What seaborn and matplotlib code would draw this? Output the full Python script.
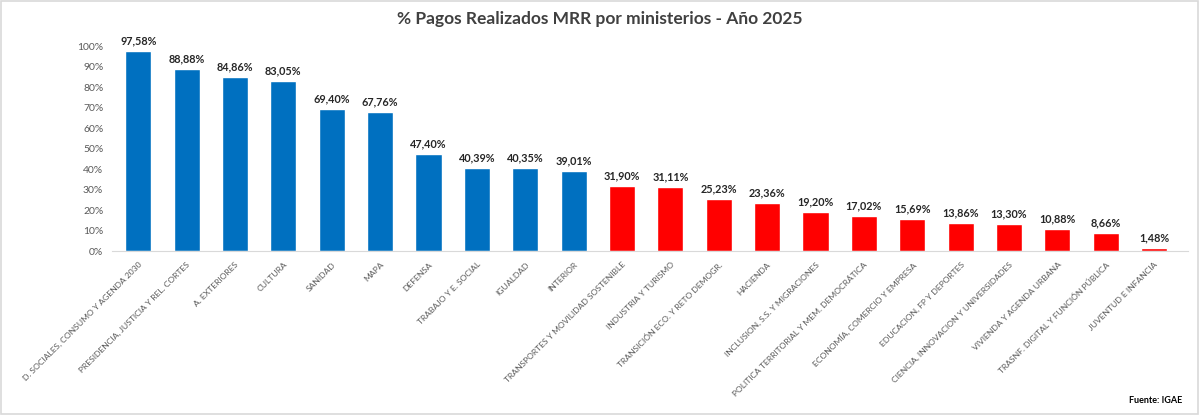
import matplotlib
matplotlib.use("Agg")
import matplotlib.pyplot as plt
import seaborn as sns
import pandas as pd
from matplotlib.patches import Rectangle

ministerios = [
    "D. SOCIALES, CONSUMO Y AGENDA 2030",
    "PRESIDENCIA, JUSTICIA Y REL. CORTES",
    "A. EXTERIORES",
    "CULTURA",
    "SANIDAD",
    "MAPA",
    "DEFENSA",
    "TRABAJO Y E. SOCIAL",
    "IGUALDAD",
    "INTERIOR",
    "TRANSPORTES Y MOVILIDAD SOSTENIBLE",
    "INDUSTRIA Y TURISMO",
    "TRANSICIÓN ECO. Y RETO DEMOGR.",
    "HACIENDA",
    "INCLUSION, S.S. Y MIGRACIONES",
    "POLITICA TERRITORIAL Y MEM. DEMOCRÁTICA",
    "ECONOMÍA, COMERCIO Y EMPRESA",
    "EDUCACION, FP Y DEPORTES",
    "CIENCIA, INNOVACION Y UNIVERSIDADES",
    "VIVIENDA Y AGENDA URBANA",
    "TRASNF. DIGITAL Y FUNCIÓN PÚBLICA",
    "JUVENTUD E INFANCIA",
]
pagos_pct = [97.58, 88.88, 84.86, 83.05, 69.40, 67.76, 47.40, 40.39, 40.35, 39.01,
             31.90, 31.11, 25.23, 23.36, 19.20, 17.02, 15.69, 13.86, 13.30, 10.88,
             8.66, 1.48]
grupo = ["alto"] * 10 + ["bajo"] * 12

df = pd.DataFrame({"ministerio": ministerios, "pct": [v / 100 for v in pagos_pct], "grupo": grupo})

sns.set_style("white")
plt.rcParams["font.family"] = ["Lato", "DejaVu Sans"]

fig = plt.figure(figsize=(12, 4.15), dpi=100)
ax = fig.add_axes([0.093, 0.395, 0.897, 0.494])

sns.barplot(data=df, x="ministerio", y="pct", hue="grupo",
            palette={"alto": "#0070C0", "bajo": "#FF0000"},
            dodge=False, width=0.54, legend=False, ax=ax, saturation=1)

ax.set_ylim(0, 1.0)
ax.set_xlim(-0.55, len(ministerios) - 0.3)
ax.set_yticks([i / 10 for i in range(11)])
ax.set_yticklabels([f"{i*10}%" for i in range(11)], fontsize=7.5, color="#595959")
ax.set_xlabel("")
ax.set_ylabel("")
ax.tick_params(axis="both", length=0, pad=6)
ax.set_xticks(range(len(ministerios)))
ax.set_xticklabels(ministerios, rotation=45, ha="right", rotation_mode="anchor",
                   fontsize=6.1, color="#595959")
ax.tick_params(axis="x", pad=7)

for s in ["top", "right", "left"]:
    ax.spines[s].set_visible(False)
ax.spines["bottom"].set_color("#D9D9D9")

for i, v in enumerate(pagos_pct):
    ax.text(i, v / 100 + 0.022, f"{v:.2f}%".replace(".", ","), ha="center", va="bottom",
            fontsize=7.8, fontweight="bold", color="#262626", clip_on=False)

fig.text(0.5, 0.955, "% Pagos Realizados MRR por ministerios - Año 2025", ha="center",
         va="center", fontsize=12.5, fontweight="bold", color="#404040")
fig.text(0.985, 0.035, "Fuente: IGAE", ha="right", va="center", fontsize=6.5,
         fontweight="bold", color="#000000")

fig.patches.append(Rectangle((0.001, 0.002), 0.997, 0.996, transform=fig.transFigure,
                             fill=False, edgecolor="#D9D9D9", linewidth=1.2))

fig.savefig("out.png", dpi=100, facecolor="white")
